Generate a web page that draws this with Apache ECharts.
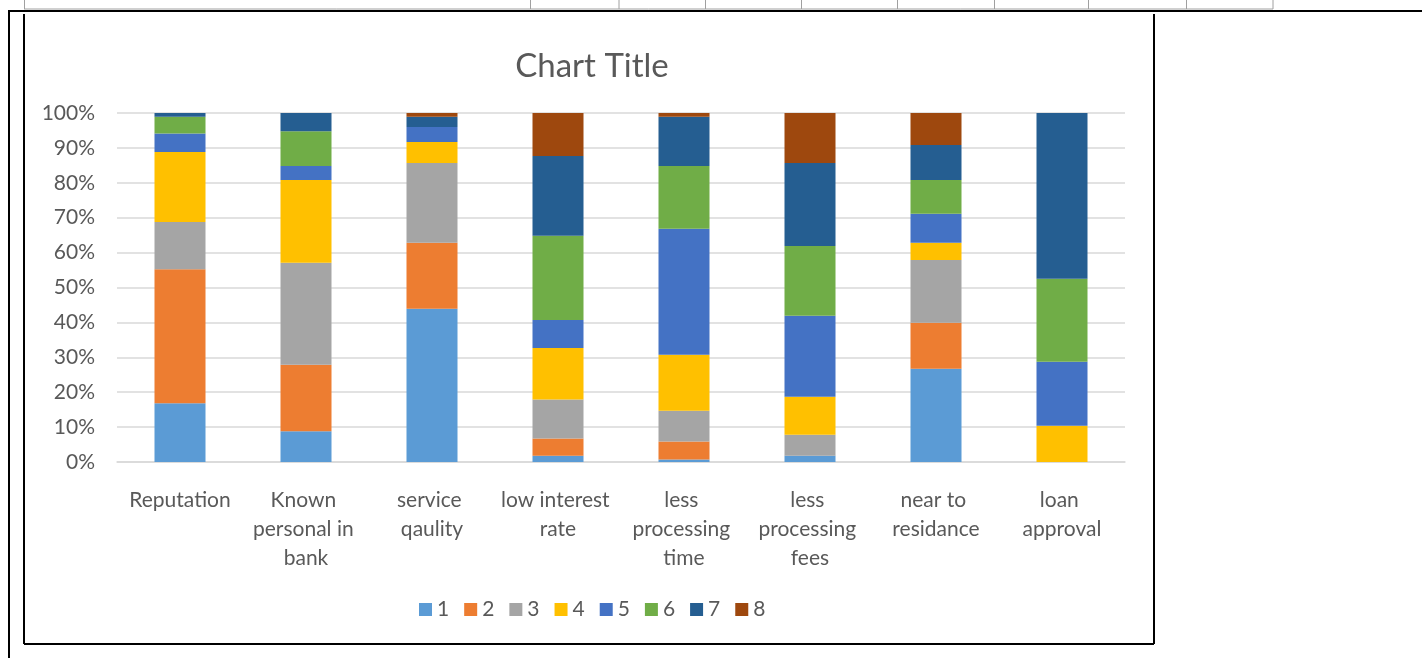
<!DOCTYPE html>
<html>
<head>
<meta charset="utf-8">
<script src="https://cdn.jsdelivr.net/npm/echarts@6/dist/echarts.min.js"></script>
<style>
  html, body { margin: 0; padding: 0; background: #fff; }
  #app { width: 1422px; height: 658px; }
</style>
</head>
<body>
<div id="app"></div>
<script>
// categories on the x axis
const categories = ['Reputation', 'Known personal in bank', 'service qaulity', 'low interest rate',
  'less processing time', 'less processing fees', 'near to residance', 'loan approval'];
const seriesNames = ['1', '2', '3', '4', '5', '6', '7', '8'];
const yTicks = [0, 10, 20, 30, 40, 50, 60, 70, 80, 90, 100];

// share of each rating per category (%)
const s1 = [16.8, 8.8, 43.9, 1.8, 0.7, 1.8, 26.7, 0];
const s2 = [38.4, 19.1, 18.9, 4.9, 5.2, 0, 13.2, 0];
const s3 = [13.6, 29.2, 22.9, 11.2, 8.8, 6.0, 18.0, 0];
const s4 = [20.0, 23.7, 6.0, 14.8, 16.0, 10.9, 4.9, 10.4];
const s5 = [5.3, 4.0, 4.3, 8.0, 36.1, 23.2, 8.3, 18.3];
const s6 = [4.8, 10.0, 0, 24.1, 18.0, 20.0, 9.7, 23.8];
const s7 = [1.1, 5.2, 2.9, 22.9, 14.1, 23.8, 10.0, 47.5];
const s8 = [0, 0, 1.1, 12.3, 1.1, 14.3, 9.2, 0];

const colors = ['#5B9BD5', '#ED7D31', '#A5A5A5', '#FFC000', '#4472C4', '#70AD47', '#255E91', '#9E480E'];
const FONT = 'Lato';

const chart = echarts.init(document.getElementById('app'));
const allData = [s1, s2, s3, s4, s5, s6, s7, s8];

// 外框线
const line = (x1, y1, x2, y2, color, w) => ({
  type: 'line', shape: { x1, y1, x2, y2 }, style: { stroke: color, lineWidth: w }, silent: true
});

chart.setOption({
  animation: false,
  color: colors,
  textStyle: { fontFamily: FONT },
  title: {
    text: 'Chart Title',
    left: 587, top: 45, textAlign: 'center',
    textStyle: { fontFamily: FONT, fontSize: 33, fontWeight: 'normal', color: '#595959' }
  },
  legend: {
    data: seriesNames,
    top: 594, left: 414,
    itemWidth: 13, itemHeight: 13, itemGap: 15,
    icon: 'rect',
    textStyle: { fontFamily: FONT, fontSize: 21, color: '#595959' }
  },
  grid: { left: 117, right: 297, top: 113, bottom: 196, containLabel: false },
  xAxis: {
    type: 'category',
    data: categories,
    axisLine: { lineStyle: { color: '#D9D9D9', width: 1.5 } },
    axisTick: { show: false },
    axisLabel: {
      interval: 0, margin: 24, width: 115, overflow: 'break', lineHeight: 29,
      fontFamily: FONT, fontSize: 21, color: '#595959'
    }
  },
  yAxis: {
    type: 'value', min: yTicks[0], max: yTicks[yTicks.length - 1], interval: 10,
    axisLine: { show: false }, axisTick: { show: false },
    splitLine: { lineStyle: { color: '#D9D9D9', width: 1.5 } },
    axisLabel: {
      margin: 22, fontFamily: FONT, fontSize: 21, color: '#595959',
      formatter: v => v + '%'
    }
  },
  series: seriesNames.map((name, i) => ({
    name, type: 'bar', stack: 'total', barWidth: 51,
    data: allData[i]
  })),
  graphic: [
    // table row above the chart
    line(24.5, 0, 24.5, 9, '#A0A0A0', 1),
    line(24, 9, 1273, 9, '#A0A0A0', 1),
    ...[530.5, 619, 705.5, 801.5, 897.5, 994.5, 1088.5, 1186.5, 1273].map(x => line(x, 0, x, 9, '#A0A0A0', 1)),
    line(8, 11, 1422, 11, '#000', 2),
    line(9, 11, 9, 658, '#000', 2),
    // chart border
    line(24, 14, 24, 644, '#000', 2),
    line(24, 644, 1154, 644, '#000', 2),
    line(1154, 14, 1154, 644, '#000', 2)
  ]
});
</script>
</body>
</html>
